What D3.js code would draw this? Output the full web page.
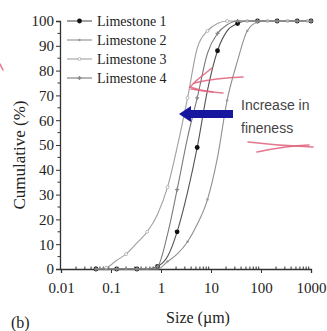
<!DOCTYPE html>
<html>
<head>
<meta charset="utf-8">
<script src="https://cdn.jsdelivr.net/npm/d3@7"></script>
<style>
  html, body { margin: 0; padding: 0; background: #fff; }
  svg { display: block; }
</style>
</head>
<body>
<div id="chart"></div>
<script>
// particle sizes (µm), shared by all four series
const sizes = [0.05, 0.08, 0.13, 0.2, 0.33, 0.53, 0.85, 1.35, 2.1, 3.4, 5.3, 8.5,
  13.5, 21, 34, 53, 85, 135, 210, 340, 530, 850, 1000];

// cumulative passing (%)
const limestone1 = [0, 0, 0, 0, 0, 0, 1, 5, 15, 31, 49, 72, 88, 96, 99, 100, 100, 100, 100, 100, 100, 100, 100];
const limestone2 = [0, 0, 0, 0, 0, 0, 0, 3, 6, 11, 18, 28, 45, 68, 84, 96, 99.5, 100, 100, 100, 100, 100, 100];
const limestone3 = [0, 0.5, 3.5, 6, 10.5, 15, 22, 33, 49, 69, 89, 96, 99, 100, 100, 100, 100, 100, 100, 100, 100, 100, 100];
const limestone4 = [0, 0, 0, 0, 0, 0, 1, 14, 32, 53, 69, 87, 95, 98.5, 100, 100, 100, 100, 100, 100, 100, 100, 100];

const seriesNames = ['Limestone 1', 'Limestone 2', 'Limestone 3', 'Limestone 4'];
const seriesValues = [limestone1, limestone2, limestone3, limestone4];

const xTicks = [0.01, 0.1, 1, 10, 100, 1000];
const xTickLabels = ['0.01', '0.1', '1', '10', '100', '1000'];
const yTicks = [0, 10, 20, 30, 40, 50, 60, 70, 80, 90, 100];

const width = 327, height = 331;
const serif = '"Liberation Serif", "Times New Roman", serif';

const styles = [
  { stroke: '#555', marker: 'dot', phase: 0 },
  { stroke: '#909090', marker: 'small', phase: 1 },
  { stroke: '#a0a0a0', marker: 'open', phase: 1 },
  { stroke: '#7a7a7a', marker: 'plus', phase: 0 }
];

const svg = d3.select('#chart').append('svg')
  .attr('width', width)
  .attr('height', height);

const x = d3.scaleLog().domain([0.01, 1000]).range([61, 311]);
const y = d3.scaleLinear().domain([0, 100]).range([269, 21]);

// axes
const minorX = [];
for (let d = 0.01; d < 1000; d *= 10) {
  for (let k = 2; k <= 9; k++) minorX.push(d * k);
}
const minorY = d3.range(5, 100, 10);

const xAxis = svg.append('g')
  .attr('transform', `translate(0,${y(0)})`)
  .call(d3.axisBottom(x).tickValues(xTicks).tickFormat((d, i) => xTickLabels[i]).tickSizeOuter(0).tickSize(4).tickPadding(9));
xAxis.append('g').selectAll('line').data(minorX).join('line')
  .attr('x1', d => x(d)).attr('x2', d => x(d))
  .attr('y1', 0).attr('y2', -2.5)
  .attr('stroke', '#333');

const yAxis = svg.append('g')
  .attr('transform', `translate(${x(0.01) - 1},0)`)
  .call(d3.axisLeft(y).tickValues(yTicks).tickSizeOuter(0).tickSize(4).tickPadding(2));
yAxis.append('g').selectAll('line').data(minorY).join('line')
  .attr('x1', 0).attr('x2', -2.5)
  .attr('y1', d => y(d)).attr('y2', d => y(d))
  .attr('stroke', '#333');

svg.selectAll('.domain').attr('stroke', '#333').attr('stroke-width', 1.3);
svg.selectAll('.tick line').attr('stroke', '#333');
svg.selectAll('.tick text')
  .attr('font-family', serif)
  .attr('font-size', 15)
  .attr('fill', '#222');

// axis titles
svg.append('text')
  .attr('x', 198).attr('y', 323)
  .attr('text-anchor', 'middle')
  .attr('font-family', serif).attr('font-size', 16).attr('fill', '#222')
  .text('Size (µm)');

svg.append('text')
  .attr('transform', 'translate(25,155) rotate(-90)')
  .attr('text-anchor', 'middle')
  .attr('font-family', serif).attr('font-size', 17).attr('fill', '#222')
  .text('Cumulative (%)');

svg.append('text')
  .attr('x', 11).attr('y', 328)
  .attr('font-family', serif).attr('font-size', 16).attr('fill', '#222')
  .text('(b)');

// curves
const line = d3.line()
  .x((d, i) => x(sizes[i]))
  .y(d => y(d))
  .curve(d3.curveMonotoneX);

function drawMarker(g, type, cx, cy) {
  if (type === 'dot') {
    g.append('circle').attr('cx', cx).attr('cy', cy).attr('r', 2.4).attr('fill', '#111');
  } else if (type === 'small') {
    g.append('circle').attr('cx', cx).attr('cy', cy).attr('r', 1.2).attr('fill', '#999');
  } else if (type === 'open') {
    g.append('circle').attr('cx', cx).attr('cy', cy).attr('r', 1.5)
      .attr('fill', '#fff').attr('stroke', '#aaa').attr('stroke-width', 0.8);
  } else {
    g.append('path')
      .attr('transform', `translate(${cx},${cy})`)
      .attr('d', d3.symbol(d3.symbolCross, 9)())
      .attr('fill', '#888');
  }
}

seriesValues.forEach((vals, s) => {
  const st = styles[s];
  const g = svg.append('g');
  g.append('path')
    .datum(vals)
    .attr('fill', 'none')
    .attr('stroke', st.stroke)
    .attr('stroke-width', 1.1)
    .attr('d', line);
  vals.forEach((v, i) => {
    if (i % 2 === st.phase) drawMarker(g, st.marker, x(sizes[i]), y(v));
  });
});

// legend
const legend = svg.append('g');
seriesNames.forEach((name, s) => {
  const ly = 21 + s * 19;
  legend.append('line')
    .attr('x1', 67).attr('x2', 92).attr('y1', ly).attr('y2', ly)
    .attr('stroke', styles[s].stroke).attr('stroke-width', 1.1);
  drawMarker(legend, styles[s].marker, 79.5, ly);
  legend.append('text')
    .attr('x', 97).attr('y', ly + 4.5)
    .attr('font-family', serif).attr('font-size', 14).attr('fill', '#222')
    .text(name);
});

// annotation: blue arrow and text
svg.append('line')
  .attr('x1', 233).attr('x2', 189).attr('y1', 114).attr('y2', 114)
  .attr('stroke', '#16169e').attr('stroke-width', 8);
svg.append('path')
  .attr('d', 'M179,114 L191,106 L191,122 Z')
  .attr('fill', '#16169e');

svg.append('text')
  .attr('x', 241).attr('y', 110)
  .attr('font-family', '"Liberation Sans", Arial, sans-serif').attr('font-size', 14).attr('fill', '#444')
  .text('Increase in');
svg.append('text')
  .attr('x', 241).attr('y', 133)
  .attr('font-family', '"Liberation Sans", Arial, sans-serif').attr('font-size', 14).attr('fill', '#444')
  .text('fineness');

// hand-drawn red marks
const scribbles = [
  'M212,68 L197,80 L190,87 L200,90 L213,92',
  'M194,83 Q215,78 243,77',
  'M191,89 Q208,92 223,93',
  'M248,142 Q280,146 313,147',
  'M257,152 Q285,146 309,145',
  'M0,64 L3,70'
];
svg.append('g').selectAll('path').data(scribbles).join('path')
  .attr('d', d => d)
  .attr('fill', 'none')
  .attr('stroke', '#e0607a')
  .attr('stroke-width', 1.6)
  .attr('stroke-linecap', 'round')
  .attr('opacity', 0.85);
</script>
</body>
</html>
